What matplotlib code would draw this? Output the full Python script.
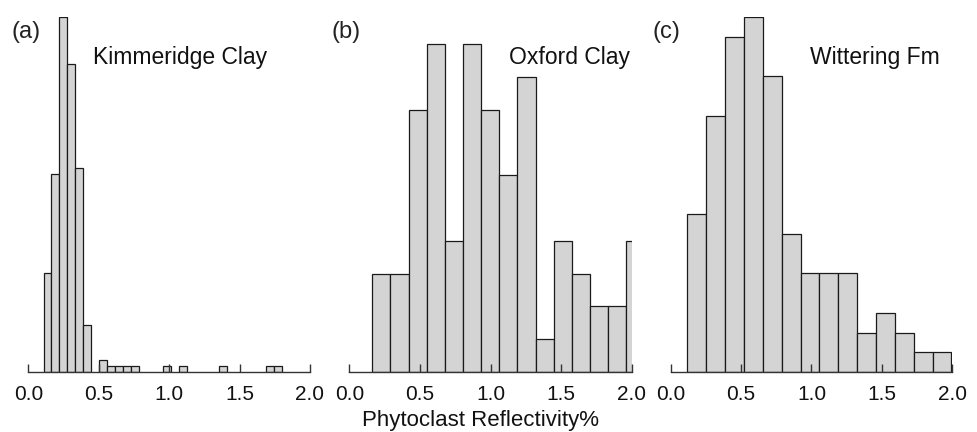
import matplotlib
matplotlib.use("Agg")
import matplotlib.pyplot as plt

plt.rcParams['font.family'] = ['Liberation Sans', 'DejaVu Sans']

# Counts (bin start, bin width, counts per bin)
kim_start = 0.108
kim_width = 0.0565
kim_counts = [17, 34, 61, 53, 35, 8, 0, 2, 1, 1, 1, 1, 0, 0, 0, 1, 0, 1, 0, 0,
              0, 0, 1, 0, 0, 0, 0, 0, 1, 1]

oxf_start = 0.163
oxf_width = 0.1285
oxf_counts = [3, 3, 8, 10, 4, 10, 8, 6, 9, 1, 4, 3, 2, 2, 4]

wit_start = 0.118
wit_width = 0.134
wit_counts = [8, 13, 17, 18, 15, 7, 5, 5, 5, 2, 3, 2, 1, 1]

panel_letters = ['(a)', '(b)', '(c)']
panel_names = ['Kimmeridge Clay', 'Oxford Clay', 'Wittering Fm']
xticks = [0.0, 0.5, 1.0, 1.5, 2.0]

W, H = 978, 432
fig = plt.figure(figsize=(W / 100, H / 100), dpi=100)

# axes placement in pixels: (left x of 0.0, right x of 2.0, top pixel of tallest bar)
boxes = [(28.3, 310.0, 17.3), (349.3, 631.7, 44.0), (670.7, 952.3, 17.3)]
base_y = 372.0
top_y = 17.0
letter_x = [12, 332, 653]
name_x = [93, 509, 810]

data = [(kim_start, kim_width, kim_counts),
        (oxf_start, oxf_width, oxf_counts),
        (wit_start, wit_width, wit_counts)]

for i, ((x0, x1, tallest), (start, width, counts)) in enumerate(zip(boxes, data)):
    ax = fig.add_axes([x0 / W, (H - base_y) / H, (x1 - x0) / W, (base_y - top_y) / H])
    lefts = [start + k * width for k in range(len(counts))]
    keep = [(l, c) for l, c in zip(lefts, counts) if c > 0]
    ax.bar([l for l, c in keep], [c for l, c in keep], width=width, align='edge',
           color='#d4d4d4', edgecolor='#1a1a1a', linewidth=0.9)
    ymax = max(counts) * (base_y - top_y) / (base_y - tallest)
    ax.set_ylim(0, ymax)
    ax.set_xlim(0, 2.0)
    for s in ['top', 'right', 'left']:
        ax.spines[s].set_visible(False)
    ax.spines['bottom'].set_color('#333333')
    ax.spines['bottom'].set_linewidth(1.0)
    ax.set_yticks([])
    ax.set_xticks(xticks)
    ax.set_xticklabels([f'{t:.1f}' for t in xticks])
    ax.tick_params(axis='x', direction='in', length=6, width=1.0, color='#333333',
                   labelsize=15, pad=9.5, labelcolor='#111111')
    fig.text(letter_x[i] / W, 1 - 38 / H, panel_letters[i], fontsize=17,
             color='#222222', va='baseline', ha='left')
    fig.text(name_x[i] / W, 1 - 64.3 / H, panel_names[i], fontsize=16.5,
             color='#111111', va='baseline', ha='left')

fig.text(481 / W, 1 - 426 / H, 'Phytoclast Reflectivity%', fontsize=16,
         color='#111111', va='baseline', ha='center')

fig.savefig('out.png', dpi=100)
